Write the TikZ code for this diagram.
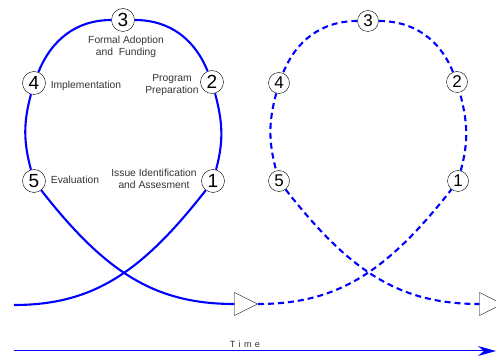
\documentclass[tikz,border=0pt]{standalone}
\usepackage{fontspec}
\setmainfont{Liberation Sans}
\usetikzlibrary{arrows.meta,shapes.geometric}

\begin{document}
\begin{tikzpicture}[
    x=1pt, y=-1pt,
    >=Stealth,
    cycle/.style={draw=blue, line width=2.1pt},
    cycledash/.style={cycle, dash pattern=on 6pt off 4pt},
    stage/.style={circle, draw, thin, fill=white, inner sep=0pt,
                  minimum size=23pt, font=\fontsize{19}{19}\selectfont},
    stagesm/.style={stage, minimum size=21pt, font=\fontsize{17}{17}\selectfont},
    gate/.style={isosceles triangle, isosceles triangle stretches, draw, thin,
                 fill=white, inner sep=0pt, minimum width=23pt, minimum height=23pt},
    lbl/.style={font=\fontsize{10.3}{11.5}\selectfont, align=center, text=black!80}
]
\useasboundingbox (0,0) rectangle (496,358);

% first cycle
\coordinate (start) at (14,305);
\node[stage] (l1) at (213,181) {1};
\node[stage] (l2) at (212,82)  {2};
\node[stage] (l3) at (123,20)  {3};
\node[stage] (l4) at (34,83)   {4};
\node[stage] (l5) at (34,181)  {5};
\node[gate, anchor=apex] (g1) at (258,304) {};

\draw[cycle] (start) to[out=0,in=232,out looseness=0.9,in looseness=1.2] (l1)
    to[out=75,in=-75] (l2) to[out=112,in=0] (l3) to[out=180,in=68] (l4)
    to[out=-105,in=105] (l5)
    to[out=-52,in=180,out looseness=1.2,in looseness=0.9] (g1.west);

% second cycle
\node[stagesm] (r1) at (458,181) {1};
\node[stagesm] (r2) at (457,82)  {2};
\node[stagesm] (r3) at (368,21)  {3};
\node[stagesm] (r4) at (279,83)  {4};
\node[stagesm] (r5) at (279,181) {5};
\node[gate, anchor=apex] (g2) at (503,304) {};

\draw[cycledash] (g1.apex) to[out=0,in=232,out looseness=0.9,in looseness=1.2] (r1)
    to[out=75,in=-75] (r2) to[out=112,in=0] (r3) to[out=180,in=68] (r4)
    to[out=-105,in=105] (r5)
    to[out=-52,in=180,out looseness=1.2,in looseness=0.9] (g2.west);

% labels
\node[lbl] at (126,47)  {Formal Adoption\\and\ \ Funding};
\node[lbl] at (172,85)  {Program\\Preparation};
\node[lbl] at (86,86)   {Implementation};
\node[lbl] at (75,180)  {Evaluation};
\node[lbl] at (154,179) {Issue Identification\\and Assesment};

% time axis
\coordinate (t0) at (14,351);
\coordinate (t1) at (496,351);
\draw[blue, line width=1pt, -{Stealth[length=18pt, width=10pt]}] (t0) -- (t1)
    node[pos=0.479, above=0pt, font=\fontsize{9}{10}\selectfont, text=black!80]
    {T\hspace{3.4pt}i\hspace{3.4pt}m\hspace{3.4pt}e};

\end{tikzpicture}
\end{document}
